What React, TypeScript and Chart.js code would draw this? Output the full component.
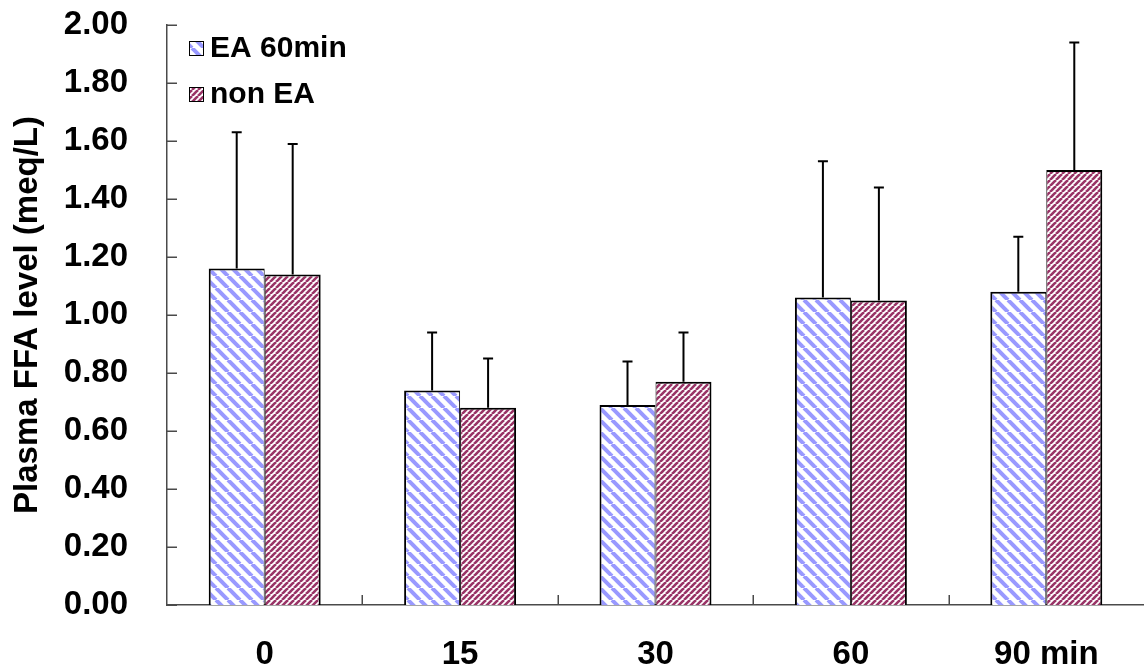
import React, { useEffect, useRef } from 'react';
import { Chart, registerables } from 'chart.js';

Chart.register(...registerables);

const categories = ['0', '15', '30', '60', '90 min'];
const seriesLabels = ['EA 60min', 'non EA'];
const eaMeans = [1.16, 0.74, 0.69, 1.06, 1.08];
const eaSD = [0.47, 0.2, 0.15, 0.47, 0.19];
const nonEaMeans = [1.14, 0.68, 0.77, 1.05, 1.5];
const nonEaSD = [0.45, 0.17, 0.17, 0.39, 0.44];
const yMin = 0;
const yMax = 2;
const yStep = 0.2;
const yAxisTitle = 'Plasma FFA level (meq/L)';

const FONT = "'Liberation Sans', Arial, Helvetica, sans-serif";
const AXIS_COLOR = '#4a4a4a';

function makePattern(color: string, size: number, width: number, dir: 'back' | 'fwd') {
  const c = document.createElement('canvas');
  c.width = size;
  c.height = size;
  const g = c.getContext('2d')!;
  g.fillStyle = '#ffffff';
  g.fillRect(0, 0, size, size);
  g.strokeStyle = color;
  g.lineWidth = width;
  for (const k of [-size, 0, size]) {
    g.beginPath();
    if (dir === 'back') {
      g.moveTo(k, 0);
      g.lineTo(k + size, size);
    } else {
      g.moveTo(k, size);
      g.lineTo(k + size, 0);
    }
    g.stroke();
  }
  return g.createPattern(c, 'repeat')!;
}

const errorBarPlugin = {
  id: 'errorBars',
  afterDatasetsDraw(chart: any) {
    const ctx = chart.ctx;
    const y = chart.scales.y;
    chart.data.datasets.forEach((ds: any, i: number) => {
      const meta = chart.getDatasetMeta(i);
      meta.data.forEach((bar: any, j: number) => {
        const top = y.getPixelForValue(ds.data[j] + ds.errors[j]);
        ctx.save();
        ctx.strokeStyle = '#000';
        ctx.lineWidth = 2;
        ctx.beginPath();
        ctx.moveTo(bar.x, bar.y);
        ctx.lineTo(bar.x, top);
        ctx.moveTo(bar.x - 5, top);
        ctx.lineTo(bar.x + 5, top);
        ctx.stroke();
        ctx.restore();
      });
    });
  },
};

const inwardTicksPlugin = {
  id: 'inwardTicks',
  afterDraw(chart: any) {
    const ctx = chart.ctx;
    const { left, bottom } = chart.chartArea;
    const y = chart.scales.y;
    const x = chart.scales.x;
    ctx.save();
    ctx.strokeStyle = AXIS_COLOR;
    ctx.lineWidth = 1.5;
    ctx.beginPath();
    y.ticks.forEach((t: any) => {
      const py = Math.round(y.getPixelForValue(t.value)) + 0.25;
      ctx.moveTo(left, py);
      ctx.lineTo(left + 10, py);
    });
    for (let k = 1; k < categories.length; k++) {
      const px = Math.round(x.getPixelForValue(k - 0.5)) + 0.25;
      ctx.moveTo(px, bottom);
      ctx.lineTo(px, bottom - 10);
    }
    ctx.stroke();
    ctx.restore();
  },
};

const insideLegendPlugin = {
  id: 'insideLegend',
  afterDraw(chart: any) {
    const ctx = chart.ctx;
    ctx.save();
    chart.data.datasets.forEach((ds: any, i: number) => {
      const bx = 189;
      const by = 41 + i * 46;
      ctx.fillStyle = ds.backgroundColor;
      ctx.fillRect(bx, by, 14, 14);
      ctx.strokeStyle = '#000';
      ctx.lineWidth = 1;
      ctx.strokeRect(bx + 0.5, by + 0.5, 14, 14);
      ctx.fillStyle = '#000';
      ctx.font = `bold 30px ${FONT}`;
      ctx.textBaseline = 'middle';
      ctx.textAlign = 'left';
      ctx.fillText(ds.label, 210, by + 8);
    });
    ctx.restore();
  },
};

export default function App() {
  const canvasRef = useRef<HTMLCanvasElement | null>(null);

  useEffect(() => {
    document.body.style.margin = '0';
    const canvas = canvasRef.current!;
    const bluePattern = makePattern('#9999ff', 12, 4, 'back');
    const redPattern = makePattern('#993366', 6, 2.6, 'fwd');

    const chart = new Chart(canvas, {
      type: 'bar',
      data: {
        labels: categories,
        datasets: [
          {
            label: seriesLabels[0],
            data: eaMeans,
            errors: eaSD,
            backgroundColor: bluePattern,
            borderColor: '#000',
            borderWidth: { top: 2, left: 2, right: 1, bottom: 0 },
            borderSkipped: false,
            categoryPercentage: 0.573,
            barPercentage: 1.0,
          } as any,
          {
            label: seriesLabels[1],
            data: nonEaMeans,
            errors: nonEaSD,
            backgroundColor: redPattern,
            borderColor: '#000',
            borderWidth: { top: 2, left: 1, right: 2, bottom: 0 },
            borderSkipped: false,
            categoryPercentage: 0.573,
            barPercentage: 1.0,
          } as any,
        ],
      },
      options: {
        animation: false,
        responsive: true,
        maintainAspectRatio: false,
        layout: { padding: { left: 0, right: 0, top: 25, bottom: 0 } },
        plugins: {
          legend: { display: false },
          tooltip: { enabled: false },
        },
        scales: {
          x: {
            grid: { display: false, drawTicks: false },
            border: { display: true, color: AXIS_COLOR, width: 1.5 },
            ticks: {
              color: '#000',
              padding: 30,
              font: { family: FONT, size: 33, weight: 'bold' },
            },
            afterFit(scale: any) {
              scale.height = 67;
              scale.paddingLeft = 0;
              scale.paddingRight = 0;
            },
          },
          y: {
            min: yMin,
            max: yMax,
            grid: { display: false, drawTicks: false },
            border: { display: true, color: AXIS_COLOR, width: 1.5 },
            ticks: {
              stepSize: yStep,
              color: '#000',
              padding: 39,
              font: { family: FONT, size: 33, weight: 'bold' },
              callback: (v: any) => Number(v).toFixed(2),
            },
            title: {
              display: true,
              text: yAxisTitle,
              color: '#000',
              padding: { top: 8, bottom: 0 },
              font: { family: FONT, size: 33, weight: 'bold' },
            },
            afterFit(scale: any) {
              scale.width = 167;
              scale.paddingTop = 0;
              scale.paddingBottom = 0;
            },
          },
        },
      } as any,
      plugins: [errorBarPlugin, inwardTicksPlugin, insideLegendPlugin],
    });
    return () => chart.destroy();
  }, []);

  return (
    <div style={{ width: 1144, height: 672, position: 'relative', background: '#fff' }}>
      <canvas ref={canvasRef} />
    </div>
  );
}
